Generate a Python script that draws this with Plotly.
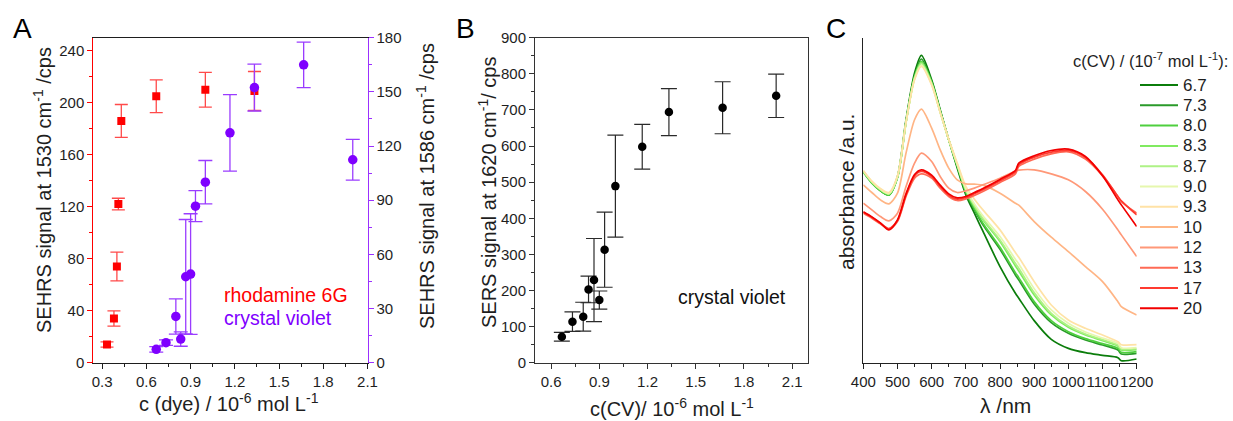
import plotly.graph_objects as go

W, H = 1233, 421
FONT = "Liberation Sans, Arial, sans-serif"

# ---------------- Panel A data ----------------
r6g_conc = [0.333, 0.38, 0.40, 0.41, 0.43, 0.667, 1.0, 1.333]
r6g_signal = [14, 34, 74, 122, 186, 205, 210, 209]
r6g_err = [2, 5.8, 11, 4.5, 12.6, 12.6, 13.4, 15]

cv_conc = [0.667, 0.733, 0.8, 0.833, 0.867, 0.9, 0.933, 1.0, 1.167, 1.333, 1.667, 2.0]
cv_sehrs = [7.4, 11.1, 25.6, 13.1, 47.6, 49.1, 86.7, 100, 127.3, 152.4, 165, 112.4]
cv_sehrs_err = [1.5, 1.5, 9.8, 4, 31.7, 33.4, 8.6, 12, 21.2, 13, 12.6, 11.3]

# ---------------- Panel B data ----------------
cv_sers = [72, 113.5, 127.4, 203, 229, 173.5, 313, 489, 598, 694, 706, 739]
cv_sers_err = [12, 27, 40, 37, 115, 25, 104, 141, 62, 65, 72, 60]

# ---------------- Panel C data (absorbance, a.u. x1000) ----------------
wavelength = [400, 425, 450, 475, 500, 525, 550, 570, 600, 625, 650, 675, 700,
              725, 750, 800, 845, 855, 900, 950, 1000, 1050, 1100, 1145, 1155, 1200]
conc_labels = ["6.7", "7.3", "8.0", "8.3", "8.7", "9.0", "9.3", "10", "12", "13", "17", "20"]
abs_6_7 = [573, 540, 516, 503, 558, 728, 868, 921, 848, 758, 668, 583, 503, 448, 394, 288, 208, 193, 126, 70, 43, 30, 22, 15, 6, 11]
abs_7_3 = [573, 540, 516, 503, 556, 723, 860, 910, 843, 755, 668, 588, 508, 458, 413, 340, 263, 248, 176, 120, 88, 68, 53, 38, 26, 28]
abs_8_0 = [571, 538, 515, 502, 554, 720, 856, 903, 840, 753, 668, 590, 512, 462, 418, 346, 270, 255, 183, 126, 93, 72, 57, 43, 31, 33]
abs_8_3 = [573, 541, 518, 505, 556, 720, 854, 900, 838, 752, 668, 592, 516, 468, 428, 363, 290, 275, 203, 143, 106, 83, 66, 50, 38, 39]
abs_8_7 = [574, 542, 519, 506, 557, 720, 852, 896, 836, 751, 668, 593, 518, 471, 432, 368, 298, 283, 210, 148, 110, 86, 69, 53, 41, 42]
abs_9_0 = [575, 543, 520, 507, 558, 720, 850, 892, 834, 750, 668, 594, 521, 476, 440, 378, 310, 296, 222, 158, 118, 92, 74, 58, 45, 45]
abs_9_3 = [576, 544, 522, 510, 560, 720, 848, 888, 832, 750, 670, 598, 528, 490, 458, 398, 330, 316, 243, 173, 128, 103, 83, 63, 54, 54]
abs_10 = [533, 510, 488, 476, 508, 628, 728, 760, 703, 638, 583, 548, 536, 535, 532, 508, 478, 472, 423, 376, 333, 288, 243, 183, 168, 143]
abs_12 = [478, 458, 438, 425, 448, 528, 598, 628, 603, 558, 523, 510, 515, 523, 533, 553, 574, 577, 578, 566, 548, 513, 460, 398, 383, 318]
abs_13 = [448, 433, 416, 400, 423, 498, 553, 566, 553, 523, 498, 486, 491, 501, 513, 540, 566, 588, 610, 626, 632, 610, 560, 498, 483, 448]
abs_17 = [451, 436, 418, 402, 426, 503, 560, 573, 558, 528, 502, 490, 495, 506, 518, 545, 572, 593, 616, 631, 636, 615, 563, 498, 485, 443]
abs_20 = [452, 437, 419, 398, 428, 506, 564, 578, 562, 532, 506, 494, 498, 510, 522, 549, 576, 598, 620, 636, 640, 618, 560, 488, 473, 408]
spectra = [abs_6_7, abs_7_3, abs_8_0, abs_8_3, abs_8_7, abs_9_0, abs_9_3,
           abs_10, abs_12, abs_13, abs_17, abs_20]
spec_colors = ["#0b7d0b", "#2a9a2a", "#4fcf3f", "#80ea60", "#aef286", "#e6f7ae",
               "#ffe2a6", "#ffb585", "#ff9878", "#ff6a55", "#ff3a30", "#f20000"]

RED = "#ff0000"
RED_ERR = "#ff4a4a"
PURPLE = "#7f00ff"
PURPLE_ERR = "#9a3cff"
DARK = "#1e1e1e"


def X(px):
    return px / W


def Y(py):
    return 1 - py / H


fig = go.Figure()

# Panel A
fig.add_trace(go.Scatter(
    x=r6g_conc, y=r6g_signal, mode="markers", xaxis="x", yaxis="y",
    marker=dict(symbol="square", size=8, color=RED),
    error_y=dict(type="data", array=r6g_err, color=RED_ERR, thickness=1.3, width=6.5),
    showlegend=False))
fig.add_trace(go.Scatter(
    x=cv_conc, y=cv_sehrs, mode="markers", xaxis="x", yaxis="y2",
    marker=dict(symbol="circle", size=9.5, color=PURPLE),
    error_y=dict(type="data", array=cv_sehrs_err, color=PURPLE_ERR, thickness=1.3, width=7),
    showlegend=False))

# Panel B
fig.add_trace(go.Scatter(
    x=cv_conc, y=cv_sers, mode="markers", xaxis="x2", yaxis="y3",
    marker=dict(symbol="circle", size=8.5, color="#000000"),
    error_y=dict(type="data", array=cv_sers_err, color="#2a2a2a", thickness=1.2, width=8),
    showlegend=False))

# Panel C
for lab, ys, col in zip(conc_labels, spectra, spec_colors):
    fig.add_trace(go.Scatter(
        x=wavelength, y=ys, mode="lines", xaxis="x3", yaxis="y4", name=lab,
        line=dict(color=col, width=1.7, shape="spline", smoothing=0.8),
        showlegend=False))

ydom = [Y(362.7), Y(37.7)]
tickfont = dict(family=FONT, size=15, color=DARK)
common = dict(showgrid=False, zeroline=False, showline=True, ticks="outside",
              ticklen=5, tickwidth=1, tickfont=tickfont, automargin=False)

fig.update_layout(
    width=W, height=H, margin=dict(l=0, r=0, t=0, b=0, autoexpand=False),
    paper_bgcolor="white", plot_bgcolor="white",
    font=dict(family=FONT, color=DARK),
    xaxis=dict(domain=[X(93.3), X(367.5)], range=[0.24, 2.1], anchor="y",
               tick0=0.3, dtick=0.3, linecolor=DARK, tickcolor=DARK, mirror=True,
               minor=dict(ticks="outside", ticklen=3, dtick=0.15, tick0=0.3, tickcolor=DARK),
               **common),
    yaxis=dict(domain=ydom, range=[0, 250], anchor="x", tick0=0, dtick=40,
               linecolor=RED, tickcolor=RED,
               minor=dict(ticks="outside", ticklen=3, dtick=20, tickcolor=RED),
               **common),
    yaxis2=dict(range=[0, 180], overlaying="y", side="right", anchor="x",
                tick0=0, dtick=30, linecolor="#9b30ff", tickcolor="#9b30ff",
                minor=dict(ticks="outside", ticklen=3, dtick=15, tickcolor="#9b30ff"),
                **common),
    xaxis2=dict(domain=[X(535), X(808.3)], range=[0.5, 2.2], anchor="y3",
                tick0=0.6, dtick=0.3, linecolor="#333", tickcolor="#333", mirror=True,
                minor=dict(ticks="outside", ticklen=3, dtick=0.15, tick0=0.6, tickcolor="#333"),
                **common),
    yaxis3=dict(domain=ydom, range=[0, 900], anchor="x2", tick0=0, dtick=100,
                linecolor="#333", tickcolor="#333", mirror=True,
                minor=dict(ticks="outside", ticklen=3, dtick=50, tickcolor="#333"),
                **common),
    xaxis3=dict(domain=[X(863.3), X(1136.7)], range=[400, 1200], anchor="y4",
                tick0=400, dtick=100, tickangle=0, linecolor="#222", tickcolor="#222",
                minor=dict(ticks="outside", ticklen=3, dtick=50, tickcolor="#222"),
                **common),
    yaxis4=dict(domain=[Y(362.7), Y(38)], range=[0, 973], anchor="x3",
                showgrid=False, zeroline=False, showline=True, linecolor="#222",
                ticks="", showticklabels=False, automargin=False),
)

ann = []


def add_text(text, px, py, size, color=DARK, angle=0, xanchor="center"):
    ann.append(dict(text=text, x=X(px), y=Y(py), xref="paper", yref="paper",
                    showarrow=False, xanchor=xanchor, yanchor="middle",
                    textangle=angle, font=dict(family=FONT, size=size, color=color)))


# panel labels
add_text("A", 22, 28, 28, "#000")
add_text("B", 465, 28, 28, "#000")
add_text("C", 836, 28, 28, "#000")

# axis titles
add_text("SEHRS signal at 1530 cm<sup>-1</sup> /cps", 43, 190, 20, angle=-90)
add_text("SEHRS signal at 1586 cm<sup>-1</sup> /cps", 426, 186, 20, angle=-90)
add_text("c (dye) / 10<sup>-6</sup> mol L<sup>-1</sup>", 229, 402, 20)
add_text("SERS signal at 1620 cm<sup>-1</sup>/ cps", 487, 193, 20, angle=-90)
add_text("c(CV)/ 10<sup>-6</sup> mol L<sup>-1</sup>", 672, 407, 20)
add_text("absorbance /a.u.", 847, 192, 21, angle=-90)
add_text("λ /nm", 1005, 405, 21)

# in-plot labels
add_text("rhodamine 6G", 222, 295, 19.5, RED, xanchor="left")
add_text("crystal violet", 222, 318, 19.5, PURPLE, xanchor="left")
add_text("crystal violet", 676, 297, 19.5, "#111", xanchor="left")

# panel C legend
add_text("c(CV) / (10<sup>-7</sup> mol L<sup>-1</sup>):", 1230, 60, 16.5, xanchor="right")
shapes = []
for i, (lab, col) in enumerate(zip(conc_labels, spec_colors)):
    yc = 85 + i * 20.3
    shapes.append(dict(type="line", xref="paper", yref="paper",
                       x0=X(1140), x1=X(1178), y0=Y(yc), y1=Y(yc),
                       line=dict(color=col, width=2)))
    add_text(lab, 1181, yc, 17, xanchor="left")

fig.update_layout(annotations=ann, shapes=shapes)
fig.write_html("out.html")
